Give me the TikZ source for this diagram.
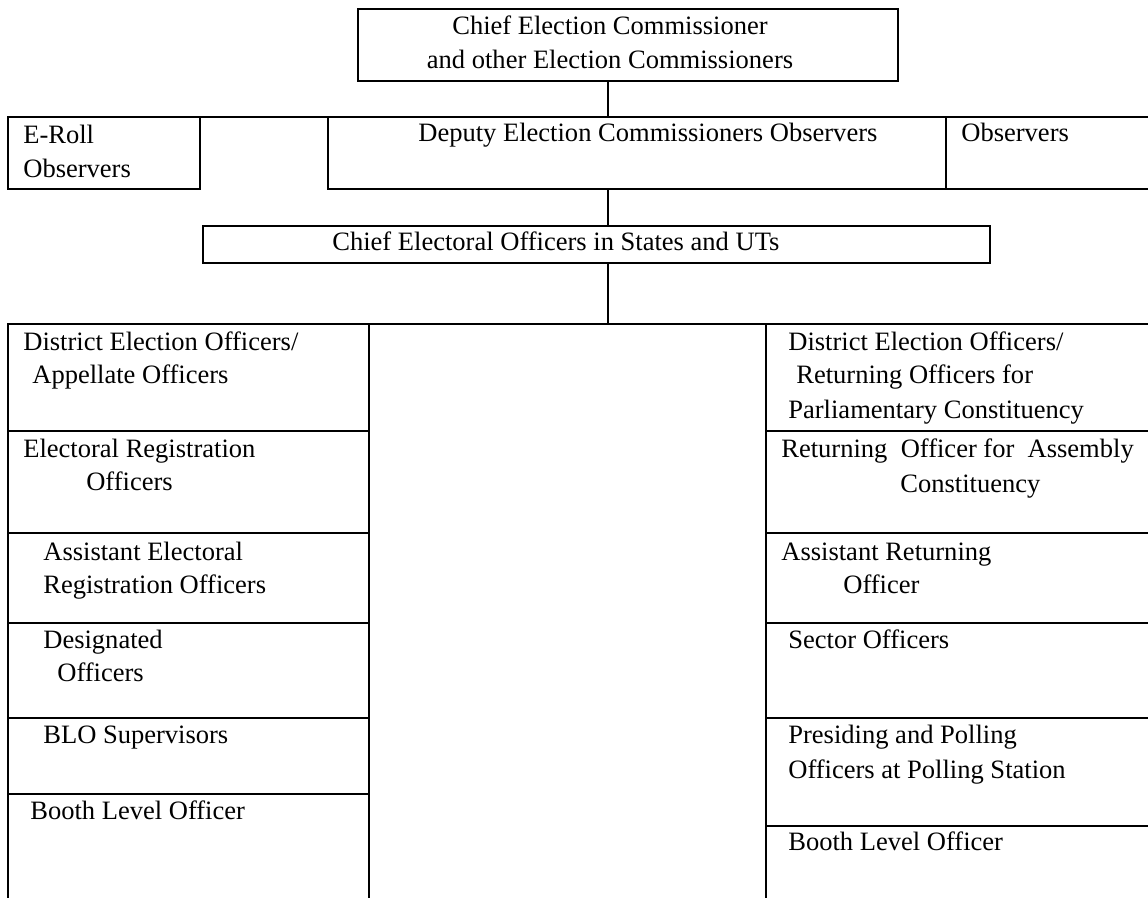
\documentclass[tikz,border=0pt]{standalone}
\usepackage{fontspec}
\setmainfont{Liberation Serif}
\usetikzlibrary{positioning}
\tikzset{
  frame/.style={draw=black, line width=1.1pt},
  box/.style={
    rectangle, frame,
    inner sep=0pt, outer sep=0pt, anchor=north west
  },
  % multi-line entries sit on the baseline of their last line
  entry/.style={
    inner sep=0pt, anchor=base west, align=left,
    font=\fontsize{15.1pt}{18.7pt}\selectfont
  },
  link/.style={draw=black, line width=0.8pt},
}
\begin{document}
\begin{tikzpicture}[x=0.02cm, y=-0.02cm]
  \useasboundingbox (0,0) rectangle (1148,898);
  \coordinate (spine) at (608,0);

  % commission
  \node[box, minimum width=10.8cm, minimum height=1.44cm] (cec) at (358,9) {};
  \node[entry, anchor=base, align=center] (cectext) at (610,69)
    {Chief Election Commissioner\\[1.1pt]and other Election Commissioners};

  % observers and deputy commissioners
  \node[box, minimum width=3.84cm, minimum height=1.44cm] (eroll) at (8,117) {};
  \node[box, minimum width=12.36cm, minimum height=1.44cm] (dec) at (328,117) {};
  \node[box, minimum width=4.28cm, minimum height=1.44cm, right=0pt of dec] (obs) {};
  \draw[frame] (eroll.north east) -- (dec.north west);
  \node[entry] (erolltext) at (23,178) {E-Roll\\[1.1pt]Observers};
  \node[entry] (dectext) at (418,142) {Deputy Election Commissioners Observers};
  \node[entry] (obstext) at (961,142) {Observers};

  % chief electoral officers
  \node[box, minimum width=15.74cm, minimum height=0.74cm] (ceo) at (203,226) {};
  \node[entry] (ceotext) at (332,251) {Chief Electoral Officers in States and UTs};

  % electoral roll side
  \node[box, minimum width=7.22cm, minimum height=2.14cm] (l1) at (8,324) {};
  \node[box, minimum width=7.22cm, minimum height=2.04cm, below=0pt of l1] (l2) {};
  \node[box, minimum width=7.22cm, minimum height=1.80cm, below=0pt of l2] (l3) {};
  \node[box, minimum width=7.22cm, minimum height=1.90cm, below=0pt of l3] (l4) {};
  \node[box, minimum width=7.22cm, minimum height=1.52cm, below=0pt of l4] (l5) {};
  \node[box, minimum width=7.22cm, minimum height=2.32cm, below=0pt of l5] (l6) {};
  \node[entry] (l1text) at (23,383)
    {District Election Officers/\\\hspace*{0.18cm}Appellate Officers};
  \node[entry] (l2text) at (23,490)
    {Electoral Registration\\\hspace*{1.26cm}Officers};
  \node[entry] (l3text) at (43,593)
    {Assistant Electoral\\Registration Officers};
  \node[entry] (l4text) at (43,681) {Designated\\\hspace*{0.28cm}Officers};
  \node[entry] (l5text) at (43,743) {BLO Supervisors};
  \node[entry] (l6text) at (30,819) {Booth Level Officer};

  % middle column
  \node[box, minimum width=7.94cm, minimum height=11.72cm] (mid) at (369,324) {};

  % election side
  \node[box, minimum width=7.88cm, minimum height=2.14cm] (r1) at (766,324) {};
  \node[box, minimum width=7.88cm, minimum height=2.04cm, below=0pt of r1] (r2) {};
  \node[box, minimum width=7.88cm, minimum height=1.80cm, below=0pt of r2] (r3) {};
  \node[box, minimum width=7.88cm, minimum height=1.90cm, below=0pt of r3] (r4) {};
  \node[box, minimum width=7.88cm, minimum height=2.16cm, below=0pt of r4] (r5) {};
  \node[box, minimum width=7.88cm, minimum height=1.68cm, below=0pt of r5] (r6) {};
  \node[entry] (r1text) at (788,418)
    {District Election Officers/\\\hspace*{0.16cm}Returning Officers for\\[1.1pt]Parliamentary Constituency};
  \node[entry] (r2text) at (781,492)
    {Returning\ \ Officer for\ \ Assembly\\[1.1pt]\hspace*{2.38cm}Constituency};
  \node[entry] (r3text) at (781,593)
    {Assistant Returning\\\hspace*{1.24cm}Officer};
  \node[entry] (r4text) at (788,648) {Sector Officers};
  \node[entry] (r5text) at (788,778)
    {Presiding and Polling\\[1.1pt]Officers at Polling Station};
  \node[entry] (r6text) at (788,850) {Booth Level Officer};

  \draw[link] (cec.south -| spine) -- (dec.north -| spine);
  \draw[link] (dec.south -| spine) -- (ceo.north -| spine);
  \draw[link] (ceo.south -| spine) -- (mid.north -| spine);
\end{tikzpicture}
\end{document}
